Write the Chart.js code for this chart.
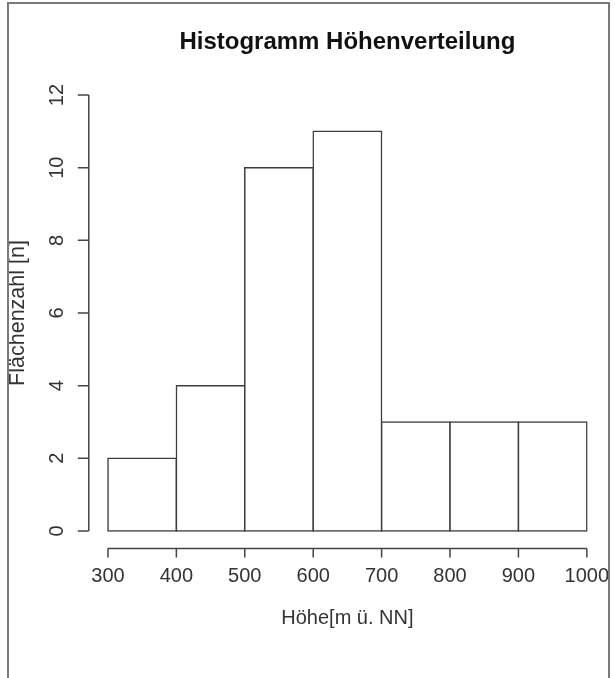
<!DOCTYPE html>
<html lang="de">
<head>
<meta charset="utf-8">
<title>Histogramm Höhenverteilung</title>
<script src="https://cdn.jsdelivr.net/npm/chart.js@4"></script>
<style>
  body { margin: 0; background: #fff; overflow: hidden; }
  #chart { display: block; }
</style>
</head>
<body>
<canvas id="chart" width="615" height="678"></canvas>
<script>
// bin edges of the histogram (m ü. NN)
const binEdges = [300, 400, 500, 600, 700, 800, 900, 1000];
// number of areas in each bin
const counts = [2, 4, 10, 11, 3, 3, 3];
// tick labels on both axes
const xTicks = [300, 400, 500, 600, 700, 800, 900, 1000];
const yTicks = [0, 2, 4, 6, 8, 10, 12];

const titleText = 'Histogramm Höhenverteilung';
const xTitle = 'Höhe[m ü. NN]';
const yTitle = 'Flächenzahl [n]';

const FONT = '"Liberation Sans", Arial, sans-serif';

// one bar per bin, centred in the bin
const bars = counts.map((n, i) => ({ x: (binEdges[i] + binEdges[i + 1]) / 2, y: n }));

// R-style axes: lines only over the tick range, rotated y labels, frame round the picture
const rAxes = {
  id: 'rAxes',
  afterDraw(chart) {
    const ctx = chart.ctx;
    const xs = chart.scales.x, ys = chart.scales.y;
    const area = chart.chartArea;
    ctx.save();

    // picture frame (open at the bottom, like the cropped screenshot)
    ctx.strokeStyle = '#7a7a7a';
    ctx.lineWidth = 2;
    ctx.beginPath();
    ctx.moveTo(8, 678);
    ctx.lineTo(8, 3);
    ctx.lineTo(609, 3);
    ctx.lineTo(609, 678);
    ctx.stroke();

    // axis lines and tick marks
    ctx.strokeStyle = '#444';
    ctx.lineWidth = 1.5;
    ctx.beginPath();
    const yb = area.bottom, xl = area.left;
    ctx.moveTo(xs.getPixelForValue(xTicks[0]), yb);
    ctx.lineTo(xs.getPixelForValue(xTicks[xTicks.length - 1]), yb);
    xTicks.forEach(v => {
      const p = xs.getPixelForValue(v);
      ctx.moveTo(p, yb);
      ctx.lineTo(p, yb + 9);
    });
    ctx.moveTo(xl, ys.getPixelForValue(yTicks[0]));
    ctx.lineTo(xl, ys.getPixelForValue(yTicks[yTicks.length - 1]));
    yTicks.forEach(v => {
      const p = ys.getPixelForValue(v);
      ctx.moveTo(xl, p);
      ctx.lineTo(xl - 11, p);
    });
    ctx.stroke();

    // y tick labels, turned like in R
    ctx.fillStyle = '#333';
    ctx.font = '20px ' + FONT;
    ctx.textAlign = 'center';
    ctx.textBaseline = 'middle';
    yTicks.forEach(v => {
      ctx.save();
      ctx.translate(57, ys.getPixelForValue(v));
      ctx.rotate(-Math.PI / 2);
      ctx.fillText(String(v), 0, 0);
      ctx.restore();
    });

    // main title centred over the plot region
    ctx.fillStyle = '#111';
    ctx.font = 'bold 24px ' + FONT;
    ctx.fillText(titleText, (area.left + area.right) / 2, 42);
    ctx.restore();
  }
};

new Chart(document.getElementById('chart'), {
  type: 'bar',
  data: {
    datasets: [{
      data: bars,
      backgroundColor: '#fff',
      borderColor: '#3c3c3c',
      borderWidth: 1.5,
      borderSkipped: false,
      inflateAmount: 0.75,
      barPercentage: 1,
      categoryPercentage: 1
    }]
  },
  options: {
    responsive: false,
    animation: false,
    devicePixelRatio: 1,
    layout: { padding: { top: 77.6, right: 9, left: 0, bottom: 0 } },
    plugins: {
      legend: { display: false },
      tooltip: { enabled: false },
      title: { display: false }
    },
    scales: {
      x: {
        type: 'linear',
        bounds: 'data',
        offset: false,
        min: 272,
        max: 1028,
        grid: { display: false, drawTicks: false, offset: false },
        border: { display: false },
        afterBuildTicks: s => { s.ticks = xTicks.map(v => ({ value: v })); },
        afterFit: s => {
          s.height = 129.6;
          // keep the plot region where R puts it, the end labels may hang over
          s.paddingLeft = 0;
          s.paddingRight = 0;
        },
        ticks: {
          color: '#333',
          font: { family: FONT, size: 20, lineHeight: 1.2 },
          padding: 15.6,
          maxRotation: 0,
          autoSkip: false,
          callback: v => String(v)
        },
        title: {
          display: true,
          text: xTitle,
          color: '#333',
          font: { family: FONT, size: 20, lineHeight: 1.2 },
          padding: { top: 0, bottom: 48 }
        }
      },
      y: {
        bounds: 'data',
        min: -0.48,
        max: 12.48,
        grid: { display: false, drawTicks: false },
        border: { display: false },
        ticks: { display: false },
        afterFit: s => { s.width = 88.8; },
        title: {
          display: true,
          text: yTitle,
          color: '#333',
          font: { family: FONT, size: 21.5, lineHeight: 1.2 },
          padding: { top: 5.1, bottom: 0 }
        }
      }
    }
  },
  plugins: [rAxes]
});
</script>
</body>
</html>
